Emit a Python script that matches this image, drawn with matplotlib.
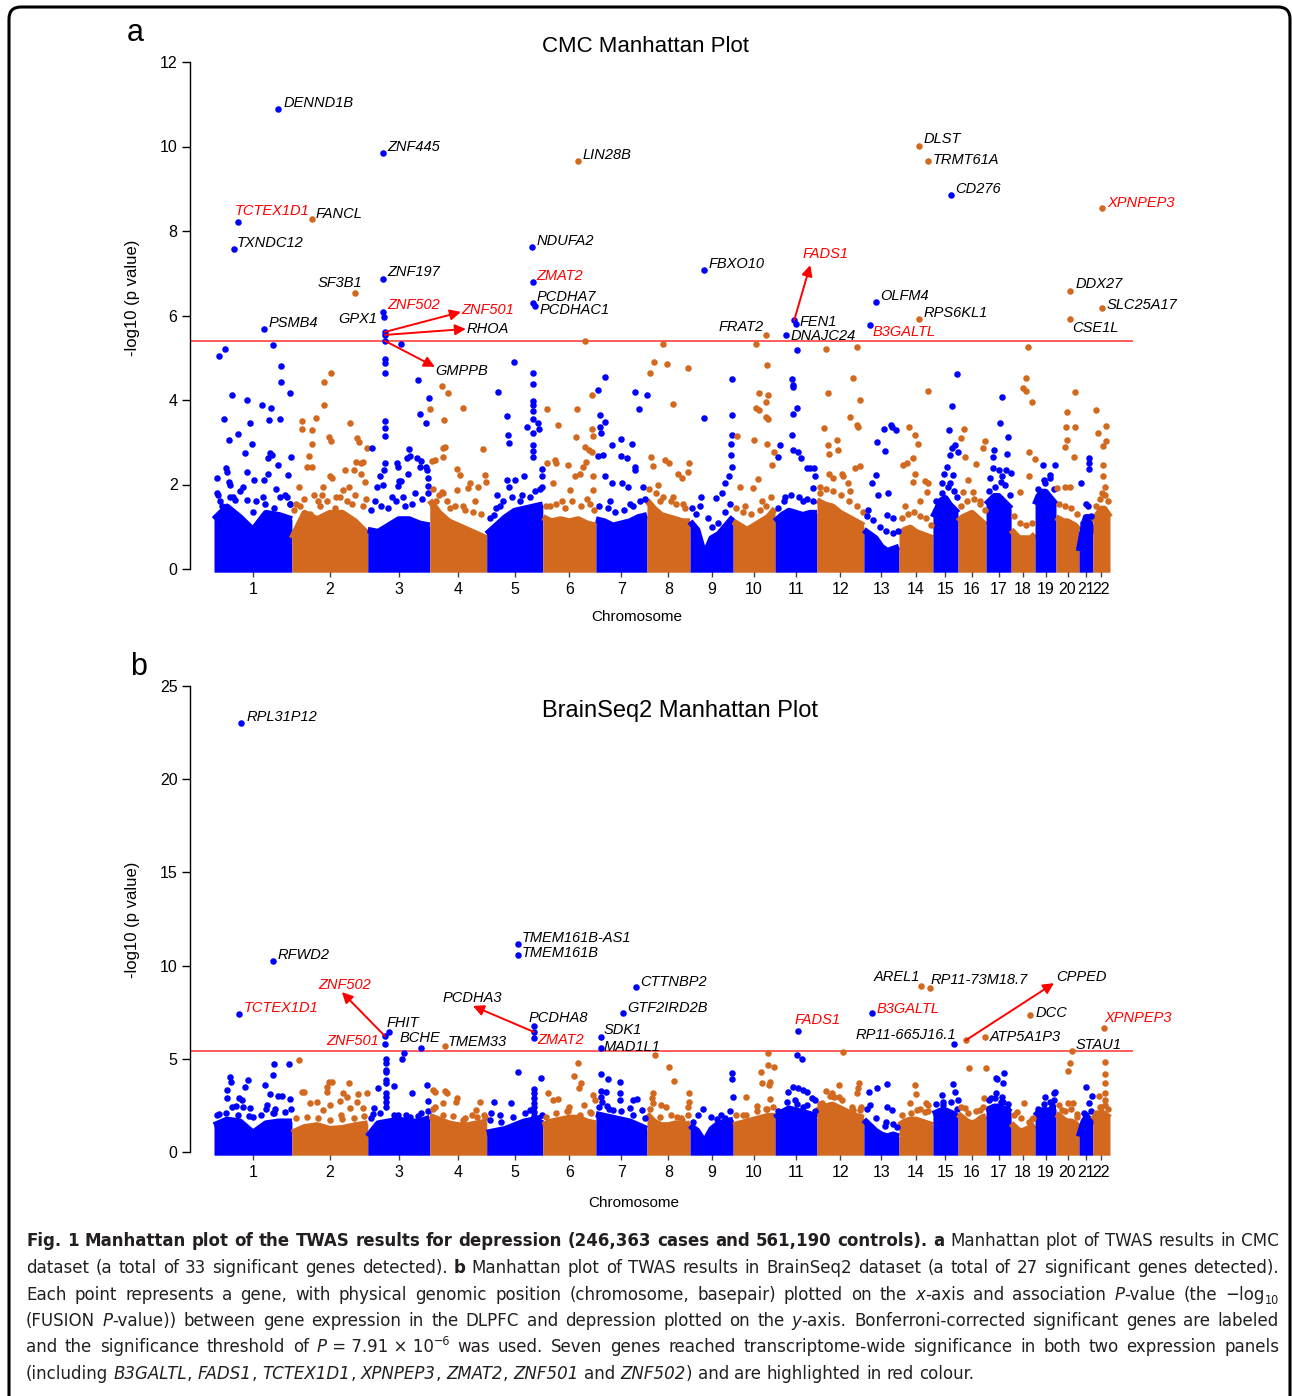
import matplotlib
matplotlib.use('Agg')
import matplotlib.pyplot as plt
import numpy as np
from matplotlib.patches import FancyBboxPatch
from matplotlib.transforms import IdentityTransform
from matplotlib import font_manager

# --- data -------------------------------------------------------------
# span (Mb) covered by genes on each chromosome, as read off the x-axis
chrom_span = [264, 257, 210, 193, 190, 180, 173, 146, 146, 142, 142, 159,
              119, 115, 85, 95, 85, 81, 71, 78, 47, 58]
chrom_names = [str(i) for i in range(1, 23)]
threshold = 5.4

# CMC: (position within chromosome in Mb, -log10 p) for points above the dense base
cmc_points = [
    [(17, 5.03), (37, 5.20), (34, 3.54), (61, 4.13), (51, 3.05), (82, 3.19), (112, 4.00), (105, 2.75), (122, 3.45),
     (129, 2.97), (201, 5.30), (228, 4.80), (228, 4.42), (224, 3.54), (187, 3.53), (163, 3.87), (194, 3.81), (258, 4.16),
     (262, 2.66), (190, 2.75), (184, 2.62), (197, 2.70), (218, 2.46), (252, 2.22), (10, 2.15), (41, 2.38), (44, 2.30),
     (51, 2.07), (54, 1.98), (112, 2.30), (136, 2.10), (170, 2.10), (184, 2.26), (99, 1.95), (14, 1.75), (20, 1.62),
     (65, 1.70), (88, 1.85), (143, 1.60), (211, 1.90), (241, 1.75), (258, 1.55)],
    [(7, 1.40), (24, 1.95), (34, 3.51), (34, 3.31), (51, 2.42), (68, 2.42), (58, 2.67), (68, 2.96), (68, 3.29), (82, 3.57),
     (109, 3.89), (109, 4.43), (133, 4.63), (126, 3.12), (133, 3.04), (129, 2.19), (136, 2.15), (102, 1.75), (105, 1.95),
     (197, 3.45), (221, 3.09), (228, 3.00), (255, 2.86), (218, 2.54), (235, 2.50), (241, 2.54), (211, 2.34), (180, 2.34),
     (173, 1.87), (194, 1.95), (235, 2.26), (248, 2.07), (27, 1.50), (61, 1.30), (88, 1.60), (146, 1.45), (163, 1.70),
     (204, 1.55), (252, 1.65)],
    [(58, 4.96), (58, 4.87), (58, 4.63), (58, 3.51), (58, 3.33), (58, 3.15), (14, 2.86), (58, 2.52), (54, 2.35), (41, 2.19),
     (31, 1.95), (51, 2.00), (112, 5.33), (170, 4.47), (177, 3.66), (207, 4.04), (197, 3.45), (98, 2.50), (102, 2.42),
     (139, 2.83), (132, 2.62), (143, 2.67), (166, 2.62), (180, 2.55), (177, 2.42), (197, 2.42), (200, 2.35), (204, 2.15),
     (204, 1.96), (204, 1.79), (105, 2.08), (102, 1.96), (112, 2.08), (136, 2.26), (24, 1.60), (82, 1.70), (126, 1.50),
     (160, 1.80)],
    [(41, 4.33), (61, 4.16), (2, 3.78), (48, 3.53), (112, 3.82), (44, 2.86), (51, 2.88), (44, 2.66), (17, 2.58), (7, 2.55),
     (180, 2.84), (92, 2.36), (102, 2.22), (136, 2.03), (129, 1.91), (163, 1.95), (187, 2.22), (190, 2.07), (44, 1.79),
     (41, 1.83), (92, 1.87), (112, 1.48), (20, 1.60), (68, 1.45), (153, 1.60)],
    [(92, 4.89), (37, 4.20), (68, 3.63), (71, 3.16), (75, 2.99), (156, 4.63), (156, 4.39), (156, 3.98), (156, 3.88),
     (156, 3.74), (156, 3.55), (156, 3.21), (156, 2.93), (156, 2.80), (156, 2.66), (136, 3.37), (173, 3.46), (177, 3.31),
     (34, 1.75), (68, 2.10), (75, 1.95), (95, 2.10), (126, 2.19), (186, 2.36), (186, 2.19), (186, 1.95), (24, 1.28),
     (44, 1.50), (112, 1.60), (146, 1.70)],
    [(14, 3.78), (51, 3.41), (14, 2.52), (41, 2.58), (44, 2.52), (85, 2.46), (34, 2.03), (116, 3.78), (112, 3.13),
     (167, 4.12), (143, 5.40), (167, 3.31), (170, 3.15), (143, 2.88), (146, 2.54), (136, 2.42), (109, 2.19), (126, 2.26),
     (92, 1.87), (156, 2.82), (167, 2.78), (170, 2.19), (170, 1.87), (24, 1.50), (65, 1.60), (160, 1.55)],
    [(7, 4.24), (31, 4.55), (14, 3.64), (14, 3.37), (17, 3.21), (31, 3.47), (7, 2.67), (24, 2.70), (54, 2.93), (85, 3.07),
     (85, 2.67), (105, 2.62), (122, 2.96), (133, 4.20), (146, 3.78), (133, 2.42), (133, 2.34), (31, 2.19), (54, 2.03),
     (88, 2.03), (109, 1.95), (160, 1.95), (172, 4.12), (48, 1.60), (116, 1.55)],
    [(10, 4.63), (24, 4.91), (68, 4.85), (54, 5.33), (139, 4.75), (88, 3.91), (14, 2.64), (20, 2.44), (61, 2.58), (75, 2.50),
     (105, 2.24), (119, 2.15), (143, 2.52), (139, 2.30), (37, 2.00), (88, 1.71), (122, 1.55), (44, 1.60)],
    [(48, 3.58), (143, 4.50), (143, 3.65), (143, 3.17), (139, 2.97), (139, 2.70), (143, 2.42), (133, 2.19), (119, 2.03),
     (37, 1.71), (34, 1.48), (88, 1.69), (109, 1.80), (61, 1.20), (75, 1.00)],
    [(14, 3.15), (71, 3.05), (78, 5.33), (115, 4.84), (88, 4.16), (119, 4.12), (112, 3.96), (78, 3.80), (88, 3.76),
     (112, 3.59), (119, 3.54), (115, 2.97), (132, 2.46), (140, 2.78), (85, 2.12), (24, 1.95), (68, 1.91), (41, 1.50),
     (98, 1.60)],
    [(17, 2.93), (10, 2.64), (75, 5.18), (58, 4.49), (61, 4.36), (61, 4.30), (75, 3.82), (61, 3.68), (58, 3.17), (61, 2.82),
     (78, 2.78), (88, 2.62), (109, 2.38), (119, 2.40), (132, 2.39), (136, 2.19), (129, 1.91), (34, 1.70), (95, 1.60)],
    [(31, 5.20), (136, 5.26), (122, 4.51), (37, 4.16), (146, 4.00), (112, 3.60), (136, 3.41), (139, 3.36), (24, 3.33),
     (68, 3.05), (37, 2.93), (71, 2.82), (41, 2.73), (129, 2.38), (146, 2.44), (41, 2.26), (85, 2.26), (88, 2.19),
     (54, 2.15), (105, 2.03), (10, 1.80), (112, 1.85)],
    [(44, 3.01), (68, 3.31), (92, 3.41), (109, 3.29), (95, 3.36), (71, 2.80), (41, 2.22), (27, 2.03), (48, 1.75), (82, 1.81),
     (78, 1.28), (99, 1.20), (14, 1.40)],
    [(34, 3.35), (54, 3.17), (65, 2.97), (99, 4.21), (48, 2.62), (27, 2.50), (14, 2.46), (54, 2.26), (48, 2.07), (88, 2.08),
     (99, 2.04), (95, 1.83), (20, 1.50), (71, 1.60)],
    [(82, 4.61), (65, 3.86), (54, 3.29), (75, 2.93), (65, 2.86), (58, 2.70), (84, 2.76), (37, 2.26), (48, 2.42), (68, 2.22),
     (31, 2.03), (58, 2.03), (17, 1.50)],
    [(20, 3.31), (10, 3.09), (24, 2.66), (61, 2.49), (93, 3.04), (85, 2.86), (34, 2.10), (17, 1.83), (51, 1.83), (75, 1.60)],
    [(54, 4.06), (48, 3.45), (75, 3.13), (27, 2.82), (24, 2.66), (71, 2.73), (24, 2.38), (44, 2.34), (68, 2.34), (83, 2.28),
     (14, 2.15), (54, 2.19)],
    [(58, 5.26), (51, 4.53), (41, 4.29), (51, 4.22), (71, 3.96), (61, 2.78), (80, 2.60), (61, 2.20), (31, 1.83)],
    [(27, 2.46), (68, 2.45), (51, 2.22), (34, 2.03)],
    [(65, 4.20), (37, 3.72), (34, 3.35), (65, 3.35), (37, 3.05), (31, 2.88), (61, 2.66), (48, 1.95), (3, 1.91), (31, 1.95)],
    [(34, 2.62), (34, 2.50), (34, 2.36), (7, 2.03), (24, 1.55)],
    [(10, 3.76), (44, 3.39), (17, 3.21), (44, 3.03), (34, 2.91), (34, 2.46), (34, 2.20), (41, 1.95), (31, 1.79)],
]

# CMC: looser points just above the dense cloud
cmc_fringe = [
    [(9, 1.79), (26, 1.48), (54, 1.71), (71, 1.63), (111, 1.63), (133, 1.36), (167, 1.71), (173, 1.55), (203, 1.44),
     (223, 1.71), (246, 1.71), (257, 1.55)],
    [(15, 1.55), (40, 1.65), (75, 1.75), (95, 1.50), (120, 1.60), (150, 1.70), (185, 1.60), (215, 1.75), (240, 1.50)],
    [(10, 1.40), (45, 1.50), (70, 1.45), (95, 1.60), (120, 1.70), (150, 1.55), (185, 1.65)],
    [(10, 1.90), (30, 1.75), (60, 1.60), (85, 1.50), (120, 1.40), (145, 1.35), (175, 1.30)],
    [(10, 1.20), (30, 1.45), (55, 1.60), (85, 1.70), (120, 1.75), (165, 1.85), (180, 1.90)],
    [(10, 1.50), (45, 1.55), (75, 1.45), (100, 1.60), (130, 1.50), (150, 1.65), (175, 1.40)],
    [(10, 1.50), (40, 1.45), (65, 1.35), (95, 1.40), (125, 1.50), (150, 1.60), (165, 1.65)],
    [(8, 1.90), (30, 1.80), (55, 1.70), (80, 1.60), (100, 1.55), (130, 1.45)],
    [(5, 1.45), (20, 1.30), (95, 1.10), (120, 1.35), (135, 1.55)],
    [(10, 1.45), (35, 1.35), (60, 1.30), (90, 1.40), (110, 1.50), (130, 1.70)],
    [(10, 1.45), (30, 1.60), (55, 1.75), (80, 1.70), (110, 1.65), (130, 1.60)],
    [(10, 1.95), (30, 1.90), (55, 1.85), (80, 1.75), (110, 1.60), (135, 1.50), (155, 1.35)],
    [(10, 1.25), (30, 1.15), (55, 1.00), (75, 0.90), (100, 0.85), (115, 0.90)],
    [(10, 1.20), (30, 1.30), (50, 1.35), (70, 1.25), (90, 1.20), (110, 1.05)],
    [(10, 1.60), (30, 1.80), (50, 1.95), (70, 1.85), (82, 1.70)],
    [(10, 1.50), (30, 1.60), (55, 1.65), (75, 1.55), (90, 1.40)],
    [(10, 1.85), (30, 1.95), (50, 2.05), (65, 2.00), (80, 1.75)],
    [(10, 1.25), (30, 1.10), (50, 1.05), (70, 1.10)],
    [(10, 1.90), (30, 2.10), (50, 2.15), (65, 1.90)],
    [(10, 1.55), (30, 1.50), (50, 1.45), (70, 1.30)],
    [(15, 1.10), (30, 1.50), (42, 1.25)],
    [(10, 1.50), (25, 1.65), (40, 1.75), (52, 1.60)],
]

# CMC: top of the dense cloud of non-significant genes, sampled evenly across each chromosome
cmc_base = [
    [1.25, 1.55, 1.30, 1.00, 1.40, 1.35, 1.25], [0.80, 1.40, 1.25, 1.40, 1.40, 1.20, 0.90],
    [1.00, 0.95, 1.10, 1.25, 1.25, 1.15, 1.10], [1.70, 1.40, 1.20, 1.10, 1.00, 0.90, 0.80],
    [0.90, 1.10, 1.30, 1.45, 1.50, 1.55, 1.60], [1.30, 1.20, 1.25, 1.20, 1.25, 1.15, 1.10],
    [1.25, 1.20, 1.10, 1.15, 1.20, 1.30, 1.35], [1.70, 1.50, 1.35, 1.30, 1.25, 1.20, 1.20],
    [1.20, 1.00, 0.40, 0.80, 0.90, 1.10, 1.30], [1.20, 1.10, 1.00, 1.10, 1.20, 1.30, 1.50],
    [1.20, 1.35, 1.45, 1.40, 1.35, 1.40, 1.40], [1.70, 1.60, 1.55, 1.40, 1.30, 1.20, 1.10],
    [1.00, 0.90, 0.80, 0.60, 0.50, 0.55, 0.60], [0.90, 1.00, 1.05, 0.95, 0.90, 0.85, 0.80],
    [1.30, 1.50, 1.70, 1.75, 1.60, 1.50, 1.40], [1.20, 1.30, 1.35, 1.40, 1.30, 1.20, 1.10],
    [1.60, 1.70, 1.80, 1.80, 1.70, 1.60, 1.50], [1.00, 0.90, 0.80, 0.80, 0.80, 0.80, 0.90],
    [1.60, 1.80, 1.90, 1.90, 1.80, 1.70, 1.60], [1.30, 1.25, 1.20, 1.20, 1.15, 1.10, 1.00],
    [0.50, 0.80, 1.10, 1.30, 1.30, 1.10, 0.90], [1.20, 1.30, 1.40, 1.50, 1.50, 1.40, 1.30],
]

# CMC significant genes: name, chromosome, position (Mb), -log10 p
cmc_genes = [
    ("DENND1B", 1, 218, 10.89), ("TCTEX1D1", 1, 82, 8.21), ("TXNDC12", 1, 68, 7.57), ("PSMB4", 1, 170, 5.68),
    ("FANCL", 2, 68, 8.28), ("SF3B1", 2, 214, 6.53), ("ZNF445", 3, 51, 9.85), ("ZNF197", 3, 51, 6.86),
    ("ZNF502", 3, 51, 6.08), ("GPX1", 3, 54, 5.96), ("ZNF501", 3, 58, 5.61), ("RHOA", 3, 58, 5.54),
    ("GMPPB", 3, 58, 5.40), ("NDUFA2", 5, 153, 7.62), ("ZMAT2", 5, 156, 6.79), ("PCDHA7", 5, 156, 6.30),
    ("PCDHAC1", 5, 163, 6.22), ("LIN28B", 6, 119, 9.66), ("FBXO10", 9, 48, 7.08), ("FRAT2", 10, 112, 5.54),
    ("FADS1", 11, 65, 5.89), ("FEN1", 11, 71, 5.80), ("DNAJC24", 11, 37, 5.54), ("B3GALTL", 13, 20, 5.77),
    ("OLFM4", 13, 41, 6.32), ("DLST", 14, 68, 10.01), ("TRMT61A", 14, 99, 9.66), ("RPS6KL1", 14, 68, 5.92),
    ("CD276", 15, 61, 8.85), ("DDX27", 20, 48, 6.58), ("CSE1L", 20, 48, 5.91), ("XPNPEP3", 22, 31, 8.54),
    ("SLC25A17", 22, 31, 6.17),
]

bs2_points = [
    [(54, 4.02), (17, 2.04), (44, 3.33), (44, 2.88), (58, 3.77), (61, 2.40), (75, 2.47), (85, 2.88), (95, 2.80), (99, 2.40),
     (105, 3.50), (116, 3.86), (122, 2.34), (133, 1.90), (173, 3.60), (180, 2.52), (177, 2.29), (201, 4.13), (204, 4.72),
     (255, 4.70), (190, 3.11), (218, 3.00), (231, 3.00), (207, 2.29), (204, 2.08), (258, 2.83), (262, 2.29)],
    [(24, 4.94), (34, 3.24), (41, 3.24), (61, 2.61), (85, 2.70), (119, 3.50), (126, 3.77), (136, 3.77), (119, 3.24),
     (129, 2.52), (105, 2.25), (163, 2.75), (194, 3.72), (173, 3.15), (187, 2.97), (224, 3.11), (255, 3.15), (221, 2.70),
     (197, 2.34), (241, 2.34), (167, 1.99)],
    [(34, 3.42), (20, 2.34), (17, 2.02), (61, 4.97), (61, 4.76), (61, 4.40), (61, 4.30), (61, 3.86), (61, 3.69), (61, 3.18),
     (61, 2.93), (61, 2.43), (61, 2.70), (88, 3.54), (102, 1.99), (116, 4.97), (122, 5.33), (150, 3.18), (201, 3.60),
     (204, 2.75), (143, 1.90), (170, 1.95)],
    [(10, 3.33), (17, 3.24), (51, 3.29), (58, 3.15), (92, 2.88), (88, 2.70), (44, 2.61), (17, 2.40), (112, 1.72), (170, 2.70),
     (156, 2.25), (187, 1.90), (143, 1.99)],
    [(24, 2.70), (14, 2.11), (82, 2.65), (44, 1.99), (105, 4.28), (160, 3.36), (160, 3.15), (160, 2.88), (160, 2.61),
     (160, 2.40), (160, 2.16), (160, 1.93), (184, 3.99), (146, 2.25), (187, 1.99)],
    [(17, 3.15), (34, 2.79), (51, 2.84), (119, 4.76), (105, 4.08), (129, 3.72), (122, 3.42), (139, 2.52), (82, 2.22),
     (88, 2.40), (170, 3.06), (177, 2.79), (160, 2.16)],
    [(17, 4.19), (41, 3.90), (82, 3.77), (34, 3.24), (17, 3.29), (17, 2.97), (20, 2.70), (82, 3.15), (82, 2.79), (126, 2.79),
     (139, 2.83), (37, 2.47), (58, 2.25), (156, 2.25), (116, 2.34)],
    [(27, 5.20), (75, 4.58), (92, 3.83), (20, 3.18), (17, 2.88), (20, 2.65), (48, 2.52), (65, 2.40), (143, 3.18), (142, 2.70),
     (140, 2.40), (102, 1.90), (119, 1.72)],
    [(44, 2.29), (143, 4.22), (143, 3.90), (145, 2.97), (92, 1.75), (119, 1.80), (27, 1.99)],
    [(119, 5.33), (119, 4.67), (140, 4.58), (95, 4.28), (126, 3.77), (99, 3.69), (122, 3.60), (126, 2.84), (44, 2.97),
     (82, 2.47), (116, 2.29), (34, 1.99)],
    [(75, 5.20), (92, 4.97), (44, 3.24), (61, 3.50), (78, 3.42), (95, 3.33), (109, 3.24), (126, 2.88), (136, 2.79),
     (68, 2.79), (95, 2.43), (51, 2.00)],
    [(88, 5.35), (75, 3.60), (143, 3.72), (139, 3.42), (136, 3.15), (31, 3.27), (51, 3.18), (58, 2.97), (75, 2.97),
     (44, 2.52), (17, 2.61), (122, 2.25), (146, 2.25)],
    [(78, 3.65), (44, 3.42), (17, 3.24), (20, 2.52), (78, 2.40), (95, 2.25), (75, 1.63), (112, 1.36)],
    [(54, 3.60), (58, 3.11), (37, 2.65), (61, 2.25), (92, 2.61), (99, 2.52), (88, 2.16)],
    [(68, 3.63), (75, 3.24), (84, 2.79), (31, 3.06), (34, 2.52)],
    [(37, 4.49), (94, 4.53), (24, 2.34), (88, 2.88), (75, 2.25)],
    [(61, 4.22), (37, 3.90), (58, 3.69), (34, 3.18), (54, 2.97), (17, 2.88), (58, 2.70), (71, 2.34), (34, 3.97)],
    [(44, 2.65), (71, 1.75), (20, 2.16)],
    [(34, 2.93), (65, 3.18), (68, 3.20), (31, 2.25), (58, 2.52)],
    [(48, 4.79), (41, 4.36), (41, 2.65), (58, 2.65), (71, 2.02), (20, 2.25)],
    [(24, 3.51), (44, 3.00), (34, 2.65), (17, 2.10)],
    [(41, 4.85), (41, 4.19), (41, 3.72), (41, 3.18), (20, 3.00), (27, 2.40), (41, 2.79)],
]

bs2_fringe = [
    [(10, 2.00), (40, 2.10), (80, 2.00), (120, 1.95), (160, 2.00), (200, 2.10), (240, 2.15)],
    [(15, 1.85), (50, 1.90), (90, 1.80), (130, 1.70), (170, 1.75), (210, 1.80), (245, 1.95)],
    [(10, 1.80), (40, 2.10), (90, 2.00), (130, 2.00), (180, 2.10), (205, 2.20)],
    [(10, 2.30), (45, 2.00), (80, 1.95), (120, 1.85), (160, 1.90), (185, 2.00)],
    [(10, 1.70), (50, 1.60), (90, 1.90), (130, 2.10), (175, 1.80)],
    [(10, 1.90), (45, 2.10), (85, 2.20), (125, 2.00), (165, 2.10)],
    [(10, 2.40), (45, 2.30), (85, 2.20), (125, 2.00), (165, 1.80)],
    [(10, 2.30), (45, 1.90), (80, 2.00), (115, 1.80), (140, 2.00)],
    [(10, 1.60), (70, 1.90), (105, 2.00), (135, 2.20)],
    [(10, 2.00), (45, 2.00), (80, 2.20), (110, 2.30), (135, 2.40)],
    [(10, 2.20), (40, 2.70), (75, 2.60), (110, 2.50), (135, 2.20)],
    [(10, 2.60), (45, 3.00), (85, 2.80), (120, 2.40), (150, 2.40)],
    [(10, 2.30), (40, 1.80), (70, 1.40), (100, 1.50)],
    [(10, 2.00), (40, 2.10), (70, 2.30), (100, 2.20)],
    [(10, 2.60), (35, 2.70), (60, 2.70), (80, 2.30)],
    [(10, 2.40), (35, 2.10), (60, 2.20), (85, 2.40)],
    [(10, 2.80), (30, 2.90), (50, 2.70), (75, 2.60)],
    [(10, 2.00), (35, 1.80), (60, 1.60), (75, 1.80)],
    [(10, 2.30), (30, 2.60), (50, 2.70), (65, 2.80)],
    [(10, 2.50), (30, 2.20), (50, 2.30), (70, 1.90)],
    [(10, 1.40), (25, 2.00), (40, 2.20)],
    [(10, 2.10), (25, 2.40), (40, 2.50), (52, 2.30)],
]

bs2_base = [
    [1.6, 1.9, 1.8, 1.2, 1.7, 1.8, 1.8], [1.2, 1.5, 1.6, 1.4, 1.45, 1.6, 1.7], [1.0, 1.7, 1.8, 1.9, 1.8, 1.8, 2.0],
    [2.1, 1.9, 1.7, 1.6, 1.6, 1.7, 1.8], [1.2, 1.3, 1.4, 1.6, 1.8, 1.9, 1.7], [1.6, 1.8, 1.9, 2.0, 2.0, 1.8, 1.7],
    [2.2, 2.1, 2.0, 1.9, 1.8, 1.6, 1.4], [2.2, 1.8, 1.6, 1.6, 1.7, 1.6, 1.7], [1.6, 1.3, 0.7, 1.4, 1.7, 1.8, 1.9],
    [1.6, 1.7, 1.8, 1.9, 2.0, 2.1, 2.1], [2.0, 2.3, 2.5, 2.4, 2.3, 2.2, 2.0], [2.4, 2.6, 2.7, 2.5, 2.3, 2.1, 2.0],
    [1.9, 1.6, 1.3, 1.1, 1.0, 1.1, 1.0], [1.6, 1.8, 1.9, 1.9, 1.8, 1.7, 1.6], [2.2, 2.3, 2.4, 2.4, 2.3, 2.2, 2.0],
    [2.2, 2.0, 1.8, 1.7, 1.8, 2.0, 2.1], [2.4, 2.5, 2.6, 2.6, 2.5, 2.4, 2.3], [1.7, 1.5, 1.3, 1.3, 1.4, 1.5, 1.6],
    [2.1, 2.3, 2.4, 2.4, 2.4, 2.5, 2.5], [2.2, 2.1, 1.9, 1.8, 1.8, 1.7, 1.5], [1.0, 1.4, 1.8, 2.0, 2.0, 1.8, 1.6],
    [1.9, 2.1, 2.2, 2.3, 2.2, 2.1, 2.0],
]

bs2_genes = [
    ("RPL31P12", 1, 92, 23.0), ("RFWD2", 1, 201, 10.25), ("TCTEX1D1", 1, 85, 7.40), ("ZNF502", 3, 58, 6.22),
    ("ZNF501", 3, 58, 5.79), ("FHIT", 3, 71, 6.44), ("BCHE", 3, 180, 5.58), ("TMEM33", 4, 51, 5.69),
    ("TMEM161B-AS1", 5, 105, 11.16), ("TMEM161B", 5, 105, 10.57), ("PCDHA8", 5, 160, 6.76), ("PCDHA3", 5, 160, 6.44),
    ("ZMAT2", 5, 160, 6.12), ("SDK1", 7, 17, 6.17), ("MAD1L1", 7, 17, 5.58), ("GTF2IRD2B", 7, 92, 7.46),
    ("CTTNBP2", 7, 136, 8.85), ("FADS1", 11, 78, 6.51), ("B3GALTL", 13, 27, 7.46), ("AREL1", 14, 75, 8.91),
    ("RP11-73M18.7", 14, 105, 8.80), ("RP11-665J16.1", 15, 71, 5.79), ("CPPED", 16, 27, 6.00),
    ("ATP5A1P3", 16, 92, 6.17), ("DCC", 18, 65, 7.35), ("STAU1", 20, 54, 5.42), ("XPNPEP3", 22, 37, 6.64),
]

shared_genes = ["B3GALTL", "FADS1", "TCTEX1D1", "XPNPEP3", "ZMAT2", "ZNF501", "ZNF502"]

# label placement in pixels relative to the dot: (dx, dy, ha); arrows give the arrow-head offset
cmc_label_pos = {
    "DENND1B": (5, 6, 'left'), "ZNF445": (4, 6, 'left'), "LIN28B": (5, 6, 'left'), "TCTEX1D1": (-4, 11, 'left'),
    "FANCL": (4, 5, 'left'), "TXNDC12": (3, 6, 'left'), "NDUFA2": (5, 6, 'left'), "SF3B1": (7, 10, 'right'),
    "ZNF197": (4, 7, 'left'), "ZMAT2": (4, 6, 'left'), "FBXO10": (4, 6, 'left'), "PSMB4": (4, 6, 'left'),
    "GPX1": (-6, -2, 'right'), "ZNF502": (4, 7, 'left'), "PCDHA7": (4, 6, 'left'), "PCDHAC1": (5, -4, 'left'),
    "FRAT2": (-3, 8, 'right'), "FEN1": (4, 2, 'left'), "DNAJC24": (5, -1, 'left'), "B3GALTL": (3, -7, 'left'),
    "OLFM4": (4, 6, 'left'), "RPS6KL1": (4, 6, 'left'), "DLST": (4, 7, 'left'), "TRMT61A": (4, 1, 'left'),
    "CD276": (4, 6, 'left'), "XPNPEP3": (5, 5, 'left'), "DDX27": (5, 7, 'left'), "SLC25A17": (5, 3, 'left'),
    "CSE1L": (2, -9, 'left'),
    "FADS1": (31, 66, 'center'), "ZNF501": (76, 22, 'left'), "RHOA": (82, 6, 'left'), "GMPPB": (50, -30, 'left'),
}
cmc_arrows = {"FADS1": (16, 55), "ZNF501": (76, 20), "RHOA": (81, 6), "GMPPB": (50, -26)}

bs2_label_pos = {
    "RPL31P12": (5, 6, 'left'), "RFWD2": (4, 6, 'left'), "TCTEX1D1": (5, 6, 'left'), "ZNF501": (-6, 3, 'right'),
    "FHIT": (-2, 9, 'left'), "BCHE": (-1, 10, 'center'), "TMEM33": (3, 4, 'left'), "TMEM161B-AS1": (4, 6, 'left'),
    "TMEM161B": (4, 2, 'left'), "PCDHA8": (-5, 8, 'left'), "ZMAT2": (3, -2, 'left'), "SDK1": (3, 7, 'left'),
    "MAD1L1": (3, 1, 'left'), "CTTNBP2": (4, 5, 'left'), "GTF2IRD2B": (4, 5, 'left'), "FADS1": (-4, 11, 'left'),
    "B3GALTL": (5, 4, 'left'), "AREL1": (-1, 9, 'right'), "RP11-73M18.7": (1, 8, 'left'),
    "RP11-665J16.1": (2, 9, 'right'), "DCC": (5, 2, 'left'), "ATP5A1P3": (5, 0, 'left'), "XPNPEP3": (0, 10, 'left'),
    "STAU1": (4, 6, 'left'),
    "ZNF502": (-40, 51, 'center'), "PCDHA3": (-62, 34, 'center'), "CPPED": (90, 63, 'left'),
}
bs2_arrows = {"ZNF502": (-43, 44), "PCDHA3": (-61, 26), "CPPED": (88, 57)}

caption_lines = [
    [("Fig. 1 Manhattan plot of the TWAS results for depression (246,363 cases and 561,190 controls).", 'b'),
     (" a", 'b'), (" Manhattan plot of TWAS results in CMC", 'r')],
    [("dataset (a total of 33 significant genes detected).", 'r'), (" b", 'b'),
     (" Manhattan plot of TWAS results in BrainSeq2 dataset (a total of 27 significant genes detected).", 'r')],
    [("Each point represents a gene, with physical genomic position (chromosome, basepair) plotted on the ", 'r'),
     ("x", 'i'), ("-axis and association ", 'r'), ("P", 'i'), ("-value (the \u2212log", 'r'), ("10", 'sub')],
    [("(FUSION ", 'r'), ("P", 'i'),
     ("-value)) between gene expression in the DLPFC and depression plotted on the ", 'r'), ("y", 'i'),
     ("-axis. Bonferroni-corrected significant genes are labeled", 'r')],
    [("and the significance threshold of ", 'r'), ("P", 'i'), ("\u00a0=\u00a07.91\u00a0\u00d7\u00a010", 'r'),
     ("\u22126", 'sup'),
     (" was used. Seven genes reached transcriptome-wide significance in both two expression panels", 'r')],
    [("(including ", 'r'), ("B3GALTL", 'i'), (", ", 'r'), ("FADS1", 'i'), (", ", 'r'), ("TCTEX1D1", 'i'), (", ", 'r'),
     ("XPNPEP3", 'i'), (", ", 'r'), ("ZMAT2", 'i'), (", ", 'r'), ("ZNF501", 'i'), (" and ", 'r'), ("ZNF502", 'i'),
     (") and are highlighted in red colour.", 'r')],
]

# --- styling ----------------------------------------------------------
W, H = 1292, 1396
BLUE, ORANGE = '#0000FF', '#D2691E'
PX = 0.72  # points per pixel at dpi 100
plt.rcParams['font.family'] = ['Liberation Sans', 'DejaVu Sans']

# caption font: a narrow face if one is installed
cap_family, cap_stretch = 'Liberation Sans', 'normal'
for f in font_manager.fontManager.ttflist:
    if f.name == 'Liberation Sans Narrow':
        cap_family, cap_stretch = 'Liberation Sans Narrow', 'normal'
        break
    if f.name == 'DejaVu Sans' and 'condensed' in str(f.stretch):
        cap_family, cap_stretch = 'DejaVu Sans', 'condensed'

starts = np.concatenate([[0], np.cumsum(chrom_span)[:-1]])
mids = starts + np.array(chrom_span) / 2.0
total = float(np.sum(chrom_span))
mb_per_px = total / 896.0


def fx(x):
    return x / W


def fy(y):
    return 1 - y / H


fig = plt.figure(figsize=(W / 100, H / 100), dpi=100)


def manhattan(ax, points, fringe, base, genes, label_pos, arrows, ymax, step, px_per_unit):
    marker_r = 3.2 / px_per_unit
    for c in range(22):
        col = BLUE if c % 2 == 0 else ORANGE
        xs = np.linspace(starts[c], starts[c] + chrom_span[c], len(base[c]))
        top = np.array(base[c]) - marker_r
        ax.fill_between(xs, -marker_r, top, color=col, lw=0, clip_on=False, zorder=2)
        ax.plot(xs, top, color=col, lw=4.6, solid_joinstyle='round', solid_capstyle='butt', zorder=2)
        pts = np.array(points[c] + fringe[c])
        ax.scatter(starts[c] + pts[:, 0], pts[:, 1], s=22, color=col, linewidths=0, zorder=3, clip_on=False)
    for name, chrom, pos, lp in genes:
        col = BLUE if chrom % 2 == 1 else ORANGE
        x = starts[chrom - 1] + pos
        ax.scatter([x], [lp], s=22, color=col, linewidths=0, zorder=4, clip_on=False)
        dx, dy, ha = label_pos[name]
        tcol = 'red' if name in shared_genes else 'black'
        ax.annotate(name, (x, lp), xytext=(dx * PX, dy * PX), textcoords='offset points', ha=ha, va='center',
                    fontsize=10.5, fontstyle='italic', color=tcol, zorder=5)
        if name in arrows:
            hx, hy = arrows[name]
            ax.annotate('', (x, lp), xytext=(hx * PX, hy * PX), textcoords='offset points',
                        arrowprops=dict(arrowstyle='<|-', color='red', lw=1.4, mutation_scale=16,
                                        shrinkA=0, shrinkB=0), zorder=5)

    ax.axhline(threshold, color='#ff3030', lw=1.1, zorder=1)
    ax.set_xlim(-24 * mb_per_px, total + 23 * mb_per_px)
    ax.set_ylim(0, ymax)
    for s in ['top', 'right', 'bottom']:
        ax.spines[s].set_visible(False)
    ax.spines['left'].set_bounds(0, ymax)
    ax.spines['left'].set_linewidth(1.0)
    ax.set_yticks(np.arange(0, ymax + 0.1, step))
    ax.set_xticks(mids)
    ax.set_xticklabels(chrom_names)
    ax.tick_params(axis='y', length=6, width=1, labelsize=11.5, pad=3)
    ax.tick_params(axis='x', length=6, width=1, labelsize=11.5, pad=3.5, color='#444444')
    ax.patch.set_alpha(0)


ax1 = fig.add_axes([fx(190), fy(569), 943 / W, 507 / H])
manhattan(ax1, cmc_points, cmc_fringe, cmc_base, cmc_genes, cmc_label_pos, cmc_arrows, 12, 2, 42.25)
ax2 = fig.add_axes([fx(190), fy(1152), 943 / W, 466 / H])
manhattan(ax2, bs2_points, bs2_fringe, bs2_base, bs2_genes, bs2_label_pos, bs2_arrows, 25, 5, 18.64)

# titles and axis labels
fig.text(fx(645), fy(47), "CMC Manhattan Plot", ha='center', va='center', fontsize=16)
fig.text(fx(680), fy(711), "BrainSeq2 Manhattan Plot", ha='center', va='center', fontsize=17)
fig.text(fx(135), fy(33), "a", ha='center', va='center', fontsize=22)
fig.text(fx(139), fy(667), "b", ha='center', va='center', fontsize=22)
for yc in (298, 920):
    fig.text(fx(132), fy(yc), "-log10 (p value)", rotation=90, ha='center', va='center', fontsize=12)
fig.text(fx(637), fy(617), "Chromosome", ha='center', va='center', fontsize=11)
fig.text(fx(634), fy(1203), "Chromosome", ha='center', va='center', fontsize=11)

# frame around the figure
frame = FancyBboxPatch((9, -30), 1281, H - 7 + 30, boxstyle='round,pad=0,rounding_size=12',
                       transform=IdentityTransform(), fill=False, edgecolor='black', lw=2.2)
fig.patches.append(frame)

# caption with justified lines
renderer = fig.canvas.get_renderer()
x_left, x_right = 26, 1279
baselines = [1246, 1273, 1300, 1326, 1352, 1379]


def seg_props(st, size):
    p = dict(fontsize=size, family=cap_family, fontstretch=cap_stretch, color='#231f20')
    if st == 'b':
        p['fontweight'] = 'bold'
    elif st == 'i':
        p['fontstyle'] = 'italic'
    elif st in ('sub', 'sup'):
        p['fontsize'] = size * 0.68
    return p


def words_of(segments):
    words = [[]]
    for txt, st in segments:
        parts = txt.split(' ')
        for k, p in enumerate(parts):
            if k > 0:
                words.append([])
            if p:
                words[-1].append((p, st))
    return [w for w in words if w]


def seg_width(txt, st, size):
    t = fig.text(0, 0, txt, **seg_props(st, size))
    w = t.get_window_extent(renderer).width
    t.remove()
    return w


def natural_width(segs, size):
    words = words_of(segs)
    sp = seg_width('a a', 'r', size) - seg_width('aa', 'r', size)
    return sum(seg_width(t, s, size) for w in words for t, s in w) + sp * (len(words) - 1)


# size chosen so the plain justified lines keep near-normal word spacing
ref_size = 14.0
fits = [(x_right - x_left) / natural_width(segs, ref_size) for segs in caption_lines[1:-1]]
cap_size = min(15.2, ref_size * min(fits) * 0.985)

for li, (segs, yb) in enumerate(zip(caption_lines, baselines)):
    size = cap_size
    if li < len(caption_lines) - 1:
        nat = natural_width(segs, size)
        if nat > (x_right - x_left) * 0.995:
            size = size * (x_right - x_left) * 0.99 / nat
    words = words_of(segs)
    widths = [[seg_width(t, s, size) for t, s in w] for w in words]
    wsum = [sum(ws) for ws in widths]
    if li < len(caption_lines) - 1:
        gap = (x_right - x_left - sum(wsum)) / (len(words) - 1)
    else:
        gap = seg_width('a a', 'r', size) - seg_width('aa', 'r', size)
    x = x_left
    for w, ws in zip(words, widths):
        xs = x
        for (t, s), sw in zip(w, ws):
            dy = {'sub': -4, 'sup': 7}.get(s, 0)
            fig.text(fx(xs), fy(yb - dy), t, ha='left', va='baseline', **seg_props(s, size))
            xs += sw
        x += sum(ws) + gap

fig.savefig('out.png', dpi=100)
